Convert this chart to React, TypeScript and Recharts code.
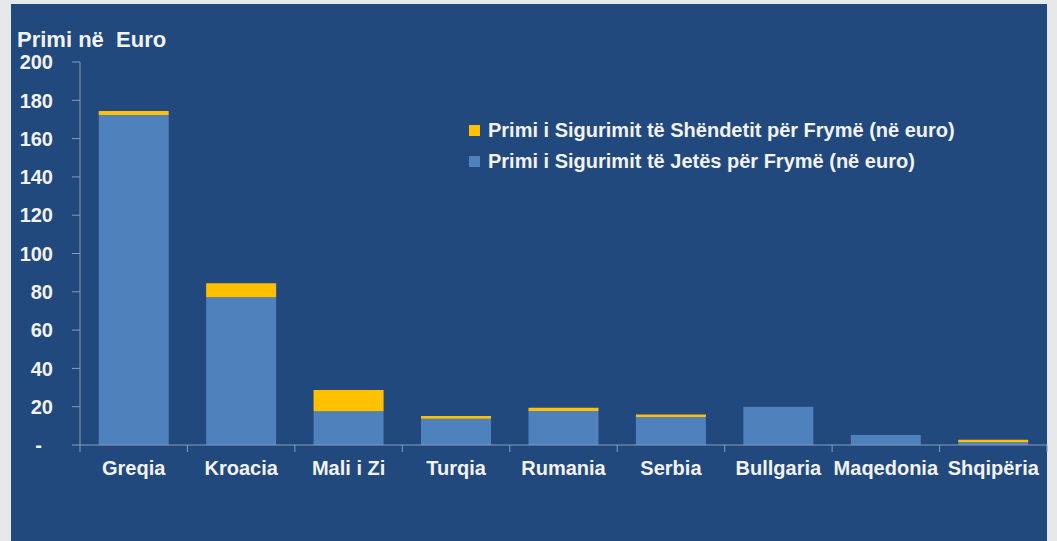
import React from "react";
import { BarChart, Bar, XAxis, YAxis, Legend } from "recharts";

const countries = [
  "Greqia",
  "Kroacia",
  "Mali i Zi",
  "Turqia",
  "Rumania",
  "Serbia",
  "Bullgaria",
  "Maqedonia",
  "Shqipëria",
];
// Primi i Sigurimit të Jetës për Frymë (në euro)
const lifePremium = [172.3, 77.1, 17.6, 13.7, 17.8, 14.6, 20.0, 5.2, 1.4];
// Primi i Sigurimit të Shëndetit për Frymë (në euro)
const healthPremium = [2.1, 7.3, 11.1, 1.4, 1.6, 1.3, 0, 0, 1.3];
const yTicks = [0, 20, 40, 60, 80, 100, 120, 140, 160, 180, 200];

const HEALTH_NAME = "Primi i Sigurimit të Shëndetit për Frymë (në euro)";
const LIFE_NAME = "Primi i Sigurimit të Jetës për Frymë (në euro)";

const W = 1057;
const H = 541;
const Y_AXIS_W = 80;
const M_TOP = 62;
const M_RIGHT = 10;
const X_AXIS_H = 40;
const M_BOTTOM = 56;
const AXIS_Y = H - M_BOTTOM - X_AXIS_H;
const BAND = (W - Y_AXIS_W - M_RIGHT) / countries.length;

const FONT = '"Liberation Sans", Arial, Helvetica, sans-serif';
const TEXT = "#f2f2f2";
const AXIS = "#8a9cb8";
const BLUE = "#4f81bd";
const YELLOW = "#ffc000";

const data = countries.map((name, i) => ({
  name,
  life: lifePremium[i],
  health: healthPremium[i],
}));

const YTick = (props: any) => {
  const { x, y, payload } = props;
  const zero = payload.value === 0;
  return (
    <text
      x={zero ? x - 11 : x}
      y={y}
      dy="0.36em"
      textAnchor="end"
      fill={TEXT}
      fontSize={20}
      fontWeight="bold"
      fontFamily={FONT}
    >
      {zero ? "-" : payload.value}
    </text>
  );
};

const XTick = (props: any) => {
  const { x, payload } = props;
  const last = payload.index === countries.length - 1;
  return (
    <g>
      <line x1={x - BAND / 2} x2={x - BAND / 2} y1={AXIS_Y} y2={AXIS_Y + 7} stroke={AXIS} />
      {last && (
        <line x1={x + BAND / 2} x2={x + BAND / 2} y1={AXIS_Y} y2={AXIS_Y + 7} stroke={AXIS} />
      )}
      <text
        x={x}
        y={AXIS_Y + 30}
        textAnchor="middle"
        fill={TEXT}
        fontSize={20}
        fontWeight="bold"
        fontFamily={FONT}
      >
        {payload.value}
      </text>
    </g>
  );
};

const LegendBox = () => (
  <div style={{ fontFamily: FONT, fontWeight: "bold", fontSize: 20, color: TEXT }}>
    {[
      { name: HEALTH_NAME, color: YELLOW },
      { name: LIFE_NAME, color: BLUE },
    ].map((it) => (
      <div
        key={it.name}
        style={{ display: "flex", alignItems: "center", height: 31, whiteSpace: "nowrap" }}
      >
        <span
          style={{
            display: "inline-block",
            width: 11,
            height: 11,
            background: it.color,
            marginRight: 8,
          }}
        />
        {it.name}
      </div>
    ))}
  </div>
);

export default function App() {
  return (
    <div
      style={{
        position: "fixed",
        left: 0,
        top: 0,
        width: W,
        height: H,
        background: "#e7e8ea",
        overflow: "hidden",
      }}
    >
      <div
        style={{
          position: "absolute",
          left: 11,
          top: 4,
          width: 1036,
          height: H - 4,
          background: "#21497d",
        }}
      />
      <div
        style={{
          position: "absolute",
          left: 17,
          top: 29,
          fontFamily: FONT,
          fontWeight: "bold",
          fontSize: 22,
          lineHeight: 1,
          color: TEXT,
          whiteSpace: "pre",
        }}
      >
        Primi në  Euro
      </div>
      <div style={{ position: "absolute", left: 0, top: 0 }}>
        <BarChart
          width={W}
          height={H}
          data={data}
          margin={{ top: M_TOP, right: M_RIGHT, bottom: M_BOTTOM, left: 0 }}
          barCategoryGap="17.4%"
        >
          <YAxis
            width={Y_AXIS_W}
            domain={[0, 200]}
            ticks={yTicks}
            interval={0}
            tickSize={8}
            tickMargin={19}
            tick={<YTick />}
            axisLine={{ stroke: AXIS }}
            tickLine={{ stroke: AXIS }}
          />
          <XAxis
            dataKey="name"
            height={X_AXIS_H}
            interval={0}
            tick={<XTick />}
            tickLine={false}
            axisLine={{ stroke: AXIS }}
          />
          <Legend
            layout="vertical"
            align="center"
            verticalAlign="middle"
            content={<LegendBox />}
            wrapperStyle={{ position: "absolute", left: 469, top: 115, width: 570 }}
          />
          <Bar
            dataKey="life"
            name={LIFE_NAME}
            stackId="a"
            fill={BLUE}
            isAnimationActive={false}
          />
          <Bar
            dataKey="health"
            name={HEALTH_NAME}
            stackId="a"
            fill={YELLOW}
            isAnimationActive={false}
          />
        </BarChart>
      </div>
    </div>
  );
}
